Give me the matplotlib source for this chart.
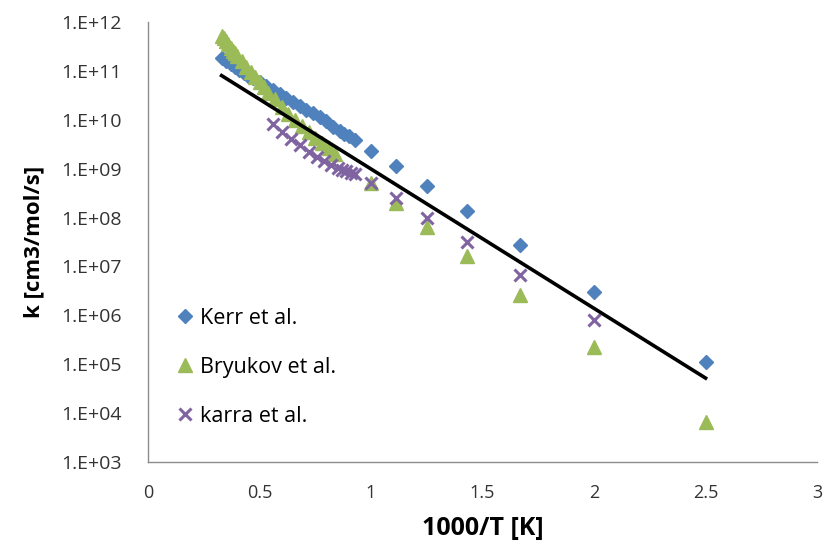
import numpy as np
import matplotlib.pyplot as plt
from matplotlib.ticker import FixedLocator, FuncFormatter

plt.rcParams['font.family'] = ['Open Sans', 'DejaVu Sans']

# Kerr et al. (1000/T, k)
kerr_x = [0.33, 0.35, 0.37, 0.39, 0.41, 0.43, 0.45, 0.47, 0.50, 0.53, 0.56, 0.59,
          0.62, 0.65, 0.68, 0.71, 0.74, 0.77, 0.80, 0.83, 0.86, 0.88, 0.90, 0.93,
          1.00, 1.11, 1.25, 1.43, 1.67, 2.00, 2.50]
kerr_k = [1.8e11, 1.6e11, 1.4e11, 1.2e11, 1.05e11, 9.1e10, 7.9e10, 7.1e10, 5.9e10,
          4.9e10, 4.1e10, 3.4e10, 2.8e10, 2.3e10, 1.95e10, 1.6e10, 1.35e10, 1.15e10,
          9.5e9, 7.1e9, 5.8e9, 5.1e9, 4.6e9, 3.8e9, 2.3e9, 1.15e9, 4.4e8, 1.35e8,
          2.75e7, 3.0e6, 1.1e5]

# Bryukov et al.
bry_x = [0.33, 0.34, 0.35, 0.36, 0.37, 0.38, 0.39, 0.40, 0.42, 0.44, 0.46, 0.48,
         0.50, 0.52, 0.54, 0.57, 0.60, 0.63, 0.66, 0.69, 0.72, 0.75, 0.78, 0.81,
         0.84, 1.00, 1.11, 1.25, 1.43, 1.67, 2.00, 2.50]
bry_k = [5.2e11, 4.6e11, 4.0e11, 3.5e11, 3.0e11, 2.6e11, 2.3e11, 2.0e11, 1.6e11,
         1.2e11, 9.5e10, 7.4e10, 5.9e10, 4.6e10, 3.6e10, 2.6e10, 1.8e10, 1.3e10,
         9.8e9, 7.4e9, 5.6e9, 4.3e9, 3.3e9, 2.6e9, 2.0e9, 5.0e8, 2.0e8, 6.3e7,
         1.6e7, 2.6e6, 2.2e5, 6.6e3]

# karra et al.
karra_x = [0.56, 0.60, 0.64, 0.68, 0.72, 0.76, 0.79, 0.82, 0.85, 0.87, 0.89, 0.91,
           0.93, 1.00, 1.11, 1.25, 1.43, 1.67, 2.00]
karra_k = [8.3e9, 5.5e9, 4.0e9, 3.0e9, 2.2e9, 1.7e9, 1.4e9, 1.2e9, 1.05e9, 9.5e8,
           8.9e8, 8.3e8, 7.6e8, 5.0e8, 2.5e8, 1.0e8, 3.2e7, 6.6e6, 7.9e5]

# Arrhenius fit line
fit_x = [0.33, 2.50]
fit_k = [8.0e10, 5.2e4]

y_ticks = [10.0 ** p for p in range(3, 13)]
x_ticks = [0, 0.5, 1, 1.5, 2, 2.5, 3]

fig = plt.figure(figsize=(8.24, 5.49), dpi=100)
ax = fig.add_axes([0.1796, 0.1585, 0.812, 0.8015])

ax.plot(kerr_x, kerr_k, 'D', color='#4F81BD', ms=7.5, mec='#4F81BD', label='Kerr et al.')
ax.plot(bry_x, bry_k, '^', color='#9BBB59', ms=10, mec='#9BBB59', label='Bryukov et al.')
ax.plot(karra_x, karra_k, 'x', color='#8064A2', ms=9, mew=2.2, label='karra et al.')
ax.plot(fit_x, fit_k, '-', color='black', lw=2.6)

ax.set_yscale('log')
ax.set_xlim(0, 3)
ax.set_ylim(1e3, 1e12)
ax.yaxis.set_major_locator(FixedLocator(y_ticks))
ax.yaxis.set_minor_locator(FixedLocator([]))
ax.yaxis.set_major_formatter(FuncFormatter(lambda v, pos: '1.E+%02d' % int(round(np.log10(v)))))
ax.xaxis.set_major_locator(FixedLocator(x_ticks))
ax.xaxis.set_major_formatter(FuncFormatter(lambda v, pos: '%g' % v))

for side in ['top', 'right']:
    ax.spines[side].set_visible(False)
for side in ['left', 'bottom']:
    ax.spines[side].set_color('#8c8c8c')
    ax.spines[side].set_linewidth(1.0)

ax.tick_params(axis='both', length=0, colors='#333333')
ax.tick_params(axis='y', pad=19, labelsize=14)
ax.tick_params(axis='x', pad=16, labelsize=13)

ax.set_xlabel('1000/T [K]', fontsize=18, fontweight='bold', labelpad=10)
ax.set_ylabel('k [cm3/mol/s]', fontsize=16, fontweight='bold', labelpad=12)

ax.legend(loc='upper left', bbox_to_anchor=(0.02, 0.385), frameon=False, fontsize=15.5,
          handlelength=0.8, handletextpad=0.3, labelspacing=1.3, borderaxespad=0.3)

fig.savefig('out.png', dpi=100)
